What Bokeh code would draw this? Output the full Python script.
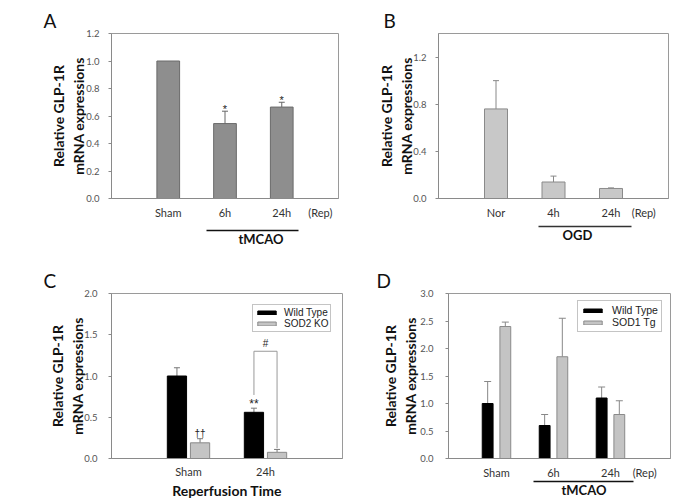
import numpy as np
from bokeh.plotting import figure
from bokeh.layouts import column, row
from bokeh.models import (Whisker, TeeHead, ColumnDataSource, FixedTicker, LinearAxis, Title,
                          Range1d, Legend, LegendItem, NumeralTickFormatter)
from bokeh.core.properties import value
from bokeh.embed import file_html
from bokeh.resources import INLINE

FONT = "Lato"
LEG_FONT = "Liberation Sans"
SYM_FONT = "Liberation Sans"

# ---------------- data ----------------
# Panel A (tMCAO, in vivo)
a_cats = ["Sham", "6h", "24h"]
a_vals = [1.0, 0.545, 0.665]
a_err = [0.0, 0.09, 0.035]
a_sig = ["", "*", "*"]
a_yticks = [0.0, 0.2, 0.4, 0.6, 0.8, 1.0, 1.2]

# Panel B (OGD, in vitro)
b_cats = ["Nor", "4h", "24h"]
b_vals = [0.76, 0.14, 0.085]
b_err = [0.24, 0.05, 0.005]
b_yticks = [0.0, 0.4, 0.8, 1.2]

# Panel C (Wild Type vs SOD2 KO)
c_groups = ["Sham", "24h"]
c_wt = [1.0, 0.56]
c_wt_err = [0.10, 0.05]
c_ko = [0.19, 0.075]
c_ko_err = [0.05, 0.035]
c_wt_sig = ["", "**"]
c_ko_sig = ["\u2020\u2020", ""]
c_bracket_top = 1.30
c_bracket_left_bottom = 0.77
c_bracket_right_bottom = 0.125
c_yticks = [0.0, 0.5, 1.0, 1.5, 2.0]

# Panel D (Wild Type vs SOD1 Tg)
d_groups = ["Sham", "6h", "24h"]
d_wt = [1.0, 0.6, 1.1]
d_wt_err = [0.4, 0.2, 0.2]
d_tg = [2.4, 1.85, 0.8]
d_tg_err = [0.08, 0.7, 0.25]
d_yticks = [0.0, 0.5, 1.0, 1.5, 2.0, 2.5, 3.0]

YLABEL = "Relative GLP-1R\nmRNA expressions"
REP = "(Rep)"


def make_fig(width, height, bl, br, bt, bb, xr, ymax, yticks, cats, rep_x=None,
             tick_std=9, ylab_std=-6, xlab_std=7):
    p = figure(width=width, height=height, x_range=Range1d(*xr), y_range=Range1d(0, ymax),
               output_backend="svg", toolbar_location=None, title=None,
               min_border_left=bl, min_border_right=br, min_border_top=bt, min_border_bottom=bb)
    p.grid.visible = False
    p.outline_line_color = "#9a9a9a"
    p.border_fill_color = "white"
    yax = p.yaxis[0]
    yax.ticker = FixedTicker(ticks=yticks)
    yax.formatter = NumeralTickFormatter(format="0.0")
    yax.major_label_text_font = FONT
    yax.major_label_text_font_size = "9.5px"
    yax.major_label_text_color = "#555555"
    yax.axis_line_color = "#8a8a8a"
    yax.major_tick_line_color = "#8a8a8a"
    yax.major_tick_out = 3
    yax.major_tick_in = 0
    yax.minor_tick_line_color = None
    yax.major_label_standoff = tick_std
    yax.axis_label = YLABEL
    yax.axis_label_text_font = FONT
    yax.axis_label_text_font_style = "bold"
    yax.axis_label_text_font_size = "14px"
    yax.axis_label_text_color = "#111111"
    yax.axis_label_standoff = ylab_std
    xax = p.xaxis[0]
    ticks = [float(i + 1) for i in range(len(cats))]
    labels = list(cats)
    if rep_x is not None:
        ticks.append(rep_x)
        labels.append(REP)
    xax.ticker = FixedTicker(ticks=ticks)
    xax.major_label_overrides = {t: c for t, c in zip(ticks, labels)}
    xax.major_label_text_font = FONT
    xax.major_label_text_font_size = "11px"
    xax.major_label_text_color = "#333333"
    xax.axis_line_color = "#8a8a8a"
    xax.major_tick_line_color = None
    xax.major_tick_out = 0
    xax.major_tick_in = 0
    xax.minor_tick_line_color = None
    xax.major_label_standoff = xlab_std
    return p


def add_group_line(p, x0, x1, label, label_offset, spacer_std=None, spacer_size=None,
                   color="#111111"):
    # optional spacer label on the main x axis pushes the group line further down
    if spacer_std is not None:
        p.xaxis[0].axis_label = " "
        p.xaxis[0].axis_label_standoff = spacer_std
        p.xaxis[0].axis_label_text_font_size = spacer_size
    ax = LinearAxis(ticker=FixedTicker(ticks=[]), bounds=(x0, x1))
    ax.axis_line_color = color
    ax.axis_line_width = 1.5
    ax.major_tick_out = 0
    ax.major_tick_in = 0
    ax.major_tick_line_color = None
    ax.minor_tick_line_color = None
    ax.major_label_standoff = 0
    ax.axis_label = None
    p.add_layout(ax, "below")
    p.add_layout(Title(text=label, align="left", offset=label_offset, standoff=0,
                       vertical_align="top", text_font=FONT, text_font_size="13px",
                       text_font_style="bold", text_color="#111111"), "below")


def add_letter(p, letter, offset, standoff):
    p.add_layout(Title(text=letter, align="left", offset=offset, standoff=standoff,
                       text_font=FONT, text_font_size="19px", text_font_style="normal",
                       text_color="#111111"), "above")


def add_err(p, xs, vals, errs, color="#666666", head=6):
    xs2 = [x for x, e in zip(xs, errs) if e > 0]
    lo = [v for v, e in zip(vals, errs) if e > 0]
    up = [v + e for v, e in zip(vals, errs) if e > 0]
    src = ColumnDataSource(dict(x=xs2, lower=lo, upper=up))
    w = Whisker(source=src, base="x", lower="lower", upper="upper", dimension="height",
                line_color=color, line_width=1, lower_head=None,
                upper_head=TeeHead(size=head, line_color=color, line_width=1))
    p.add_layout(w)


# ---------------- Panel A ----------------
pA = make_fig(348, 250, 111, 10, 33, 52, (0, 4), 1.2, a_yticks, a_cats, rep_x=3.68,
              tick_std=9, ylab_std=-4, xlab_std=7)
a_x = [i + 1 for i in range(len(a_cats))]
pA.vbar(x=a_x, top=a_vals, width=0.4, fill_color="#8e8e8e", line_color="#6a6a6a", line_width=1)
add_err(pA, a_x, a_vals, a_err)
a_up = [v + e for v, e in zip(a_vals, a_err)]
pA.text(x=a_x, y=a_up, text=a_sig, text_align="center", text_baseline="bottom",
        text_font=value(SYM_FONT), text_font_size="11px", text_color="#222222", y_offset=4)
add_group_line(pA, 1.67, 3.30, "tMCAO", 127, spacer_std=0, spacer_size="5px")
add_letter(pA, "A", -68, 3)

# ---------------- Panel B ----------------
pB = make_fig(348, 250, 90, 28, 33, 52, (0, 4), 1.4, b_yticks, b_cats, rep_x=3.57,
              tick_std=9, ylab_std=-5, xlab_std=7)
b_x = [i + 1 for i in range(len(b_cats))]
pB.vbar(x=b_x, top=b_vals, width=0.4, fill_color="#c8c8c8", line_color="#8a8a8a", line_width=1)
add_err(pB, b_x, b_vals, b_err, color="#888888")
add_group_line(pB, 1.74, 3.36, "OGD", 124, spacer_std=0, spacer_size="2px", color="#333333")
add_letter(pB, "B", -55, 3)

# ---------------- Panel C ----------------
pC = make_fig(348, 253, 111, 6, 43, 45, (0, 3), 2.0, c_yticks, c_groups,
              tick_std=11, ylab_std=-5, xlab_std=6)
c_g = np.array([i + 1 for i in range(len(c_groups))], dtype=float)
c_wx = c_g - 0.15
c_kx = c_g + 0.15
rc1 = pC.vbar(x=c_wx, top=c_wt, width=0.25, fill_color="#000000", line_color="#000000")
rc2 = pC.vbar(x=c_kx, top=c_ko, width=0.25, fill_color="#c4c4c4", line_color="#8a8a8a")
add_err(pC, list(c_wx), c_wt, c_wt_err, color="#777777")
add_err(pC, list(c_kx), c_ko, c_ko_err, color="#777777")
pC.text(x=c_wx, y=[v + e for v, e in zip(c_wt, c_wt_err)], text=c_wt_sig, text_align="center",
        text_baseline="bottom", text_font=value(SYM_FONT), text_font_size="12px",
        text_color="#222222", y_offset=3)
pC.text(x=c_kx, y=[v + e for v, e in zip(c_ko, c_ko_err)], text=c_ko_sig, text_align="center",
        text_baseline="bottom", text_font=value(SYM_FONT), text_font_size="10px",
        text_color="#222222", y_offset=0)
pC.line(x=[c_wx[1], c_wx[1], c_kx[1], c_kx[1]],
        y=[c_bracket_left_bottom, c_bracket_top, c_bracket_top, c_bracket_right_bottom],
        line_color="#999999", line_width=1)
pC.text(x=[(c_wx[1] + c_kx[1]) / 2], y=[c_bracket_top], text=["#"], text_align="center",
        text_baseline="bottom", text_font=value(SYM_FONT), text_font_size="10px",
        text_color="#222222", y_offset=-2)
pC.xaxis[0].axis_label = "Reperfusion Time"
pC.xaxis[0].axis_label_text_font = FONT
pC.xaxis[0].axis_label_text_font_style = "bold"
pC.xaxis[0].axis_label_text_font_size = "14px"
pC.xaxis[0].axis_label_text_color = "#111111"
pC.xaxis[0].axis_label_standoff = 1
legC = Legend(items=[LegendItem(label="Wild Type", renderers=[rc1]),
                     LegendItem(label="SOD2 KO", renderers=[rc2])],
              location=(141, 126), margin=0, padding=2, spacing=0, label_height=10,
              glyph_height=5, glyph_width=23, label_standoff=6,
              label_text_font=LEG_FONT, label_text_font_size="10px",
              label_text_color="#222222", border_line_color="#8a8a8a",
              background_fill_color="white", background_fill_alpha=1)
pC.add_layout(legC)
add_letter(pC, "C", -68, 3)

# ---------------- Panel D ----------------
pD = make_fig(348, 253, 100, 26, 43, 45, (0.158, 4.053), 3.0, d_yticks, d_groups, rep_x=3.60,
              tick_std=12, ylab_std=-2, xlab_std=7)
d_g = np.array([i + 1 for i in range(len(d_groups))], dtype=float)
d_wx = d_g - 0.155
d_tx = d_g + 0.155
rd1 = pD.vbar(x=d_wx, top=d_wt, width=0.19, fill_color="#000000", line_color="#000000")
rd2 = pD.vbar(x=d_tx, top=d_tg, width=0.19, fill_color="#c4c4c4", line_color="#8a8a8a")
add_err(pD, list(d_wx), d_wt, d_wt_err, color="#888888", head=7)
add_err(pD, list(d_tx), d_tg, d_tg_err, color="#888888", head=7)
add_group_line(pD, 1.65, 3.40, "tMCAO", 113)
legD = Legend(items=[LegendItem(label="Wild Type", renderers=[rd1]),
                     LegendItem(label="SOD1 Tg", renderers=[rd2])],
              location=(129, 126), margin=0, padding=3, spacing=0, label_height=11,
              glyph_height=5, glyph_width=23, label_standoff=8,
              label_text_font=LEG_FONT, label_text_font_size="10.5px",
              label_text_color="#222222", border_line_color="#8a8a8a",
              background_fill_color="white", background_fill_alpha=1)
pD.add_layout(legD)
add_letter(pD, "D", -72, 3)

layout = column(row(pA, pB), row(pC, pD))
open("out.html", "w").write(file_html(layout, INLINE))
